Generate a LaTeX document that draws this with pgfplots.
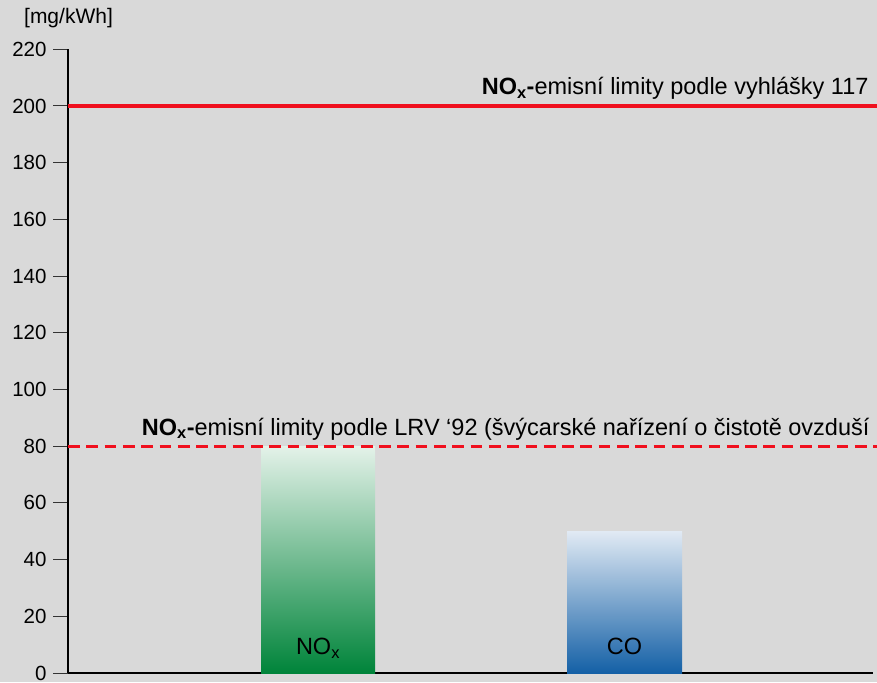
\documentclass[border=0pt]{standalone}
\usepackage{pgfplots}
\pgfplotsset{compat=1.18}
\usepackage{fontspec}
\setmainfont{Liberation Sans}
\definecolor{bg}{RGB}{217,217,217}
\definecolor{limred}{RGB}{240,16,30}
\definecolor{gtop}{RGB}{228,242,233}
\definecolor{gbot}{RGB}{0,132,58}
\definecolor{btop}{RGB}{225,234,244}
\definecolor{bbot}{RGB}{20,96,166}
\newcommand{\fs}{\fontsize{23.5}{26}\selectfont}
\newcommand{\ft}{\fontsize{20.5}{23}\selectfont}
\begin{document}
\begin{tikzpicture}
\fill[bg] (0,0) rectangle (877pt,682pt);
\node[font=\fontsize{21}{23}\selectfont] at (68.5pt,664pt) {[mg/kWh]};
\begin{axis}[
  at={(68pt,9pt)}, anchor=south west,
  scale only axis, width=805pt, height=623.7pt,
  xmin=0, xmax=805, ymin=0, ymax=220,
  axis lines*=left,
  axis line style={line width=1.3pt, black},
  xtick=\empty,
  ytick={0,20,...,220},
  tick align=outside,
  major tick length=15pt,
  ytick style={line width=1pt, black!80},
  yticklabel style={font=\ft, xshift=-3pt},
  /pgf/number format/assume math mode=true,
  clip=false,
]
\addplot[ybar, bar width=114, draw=none, top color=gtop, bottom color=gbot] coordinates {(250,80)};
\addplot[ybar, bar width=115, draw=none, top color=btop, bottom color=bbot] coordinates {(556.5,50)};
\addplot[limred, line width=3.3pt, mark=none] coordinates {(0,200) (809,200)};
\addplot[limred, line width=3.3pt, mark=none, dash pattern=on 11.7pt off 6.6pt] coordinates {(0,80) (809,80)};
\node[anchor=base east, font=\fs, yshift=11pt] at (axis cs:804,200) {\textbf{NO\textsubscript{x}-}emisní limity podle vyhlášky 117};
\node[anchor=base east, font=\fs, yshift=11pt] at (axis cs:805,80) {\textbf{NO\textsubscript{x}-}emisní limity podle LRV ‘92 (švýcarské nařízení o čistotě ovzduší};
\node[anchor=base, font=\fs, yshift=18.5pt] at (axis cs:250,0) {NO\textsubscript{x}};
\node[anchor=base, font=\fs, yshift=18.5pt] at (axis cs:556.5,0) {CO};
\end{axis}
\pgfresetboundingbox
\path (0,0) rectangle (877pt,682pt);
\end{tikzpicture}
\end{document}
